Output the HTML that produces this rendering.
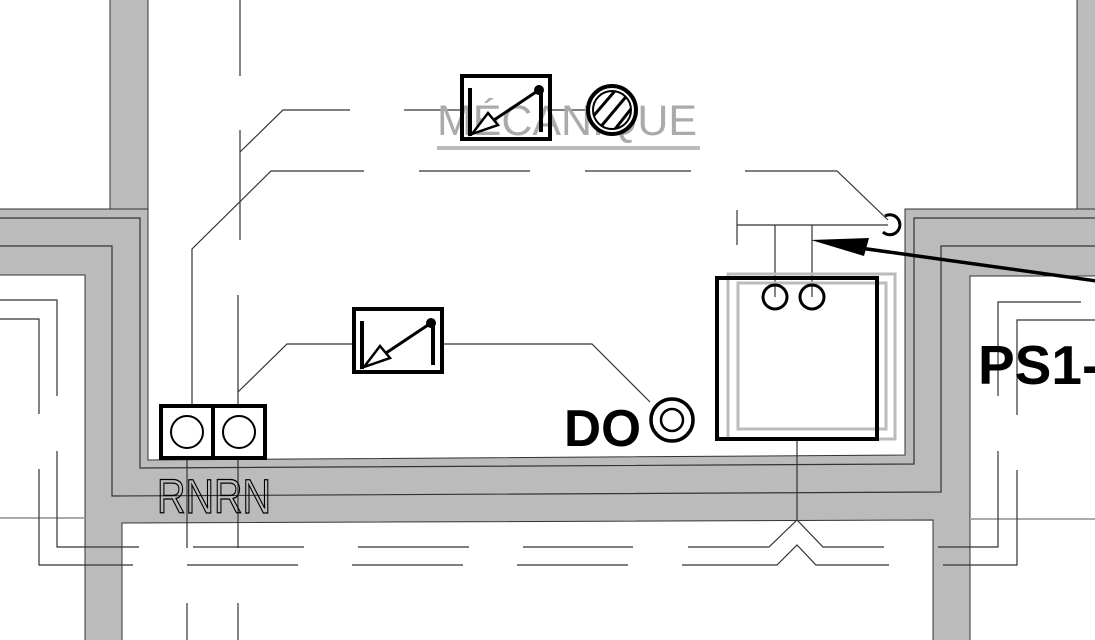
<!DOCTYPE html>
<html><head><meta charset="utf-8"><style>
html,body{margin:0;padding:0;background:#fff;width:1095px;height:640px;overflow:hidden}
svg{display:block}
</style></head><body>
<svg width="1095" height="640" viewBox="0 0 1095 640" xmlns="http://www.w3.org/2000/svg">
<defs>
<g id="sym">
  <rect x="0" y="0" width="88" height="63" fill="none" stroke="#000" stroke-width="4"/>
  <line x1="8" y1="12" x2="8" y2="60" stroke="#000" stroke-width="4"/>
  <line x1="79" y1="16" x2="79" y2="56" stroke="#000" stroke-width="4"/>
  <circle cx="77" cy="14" r="5" fill="#000"/>
  <line x1="77" y1="14" x2="32" y2="44" stroke="#000" stroke-width="3"/>
  <polygon points="10,58 26,37 36,49" fill="#fff" stroke="#000" stroke-width="2.5"/>
</g>
</defs>
<g fill="#bbb" stroke="#333" stroke-width="1">
  <rect x="110" y="-2" width="38" height="212"/>
  <rect x="1077" y="-2" width="20" height="212"/>
  <polygon points="-2,209 148,209 148,460 905,455 905,209 1097,209 1097,276 970,276 970,642 933,642 933,520 122,523 122,642 85,642 85,275 -2,275"/>
</g>
<g fill="none" stroke="#333" stroke-width="1.2">
  <polyline points="-2,218 140,218 140,468 914,464 914,218 1097,218"/>
  <polyline points="-2,246 112,246 112,496 941,492 941,246 1097,246"/>
</g>
<g fill="none" stroke="#aaa" stroke-width="2">
  <line x1="0" y1="518" x2="85" y2="518"/>
  <line x1="970" y1="519" x2="1095" y2="519"/>
</g>
<g fill="none" stroke="#333" stroke-width="1.2">
  <polyline points="0,300 57,300 57,396"/>
  <polyline points="57,451 57,547 139,547"/>
  <polyline points="0,319 39,319 39,414"/>
  <polyline points="39,469 39,565 133,565"/>
  <line x1="193" y1="547" x2="304" y2="547"/><line x1="358" y1="547" x2="469" y2="547"/><line x1="523" y1="547" x2="633" y2="547"/>
  <line x1="187" y1="565" x2="298" y2="565"/><line x1="352" y1="565" x2="463" y2="565"/><line x1="517" y1="565" x2="628" y2="565"/>
  <polyline points="688,547 769,547 797,520 823,547 884,547"/>
  <polyline points="682,565 777,565 797,545 816,565 889,565"/>
  <line x1="797" y1="440" x2="797" y2="520"/>
  <polyline points="938,547 998,547 998,451"/>
  <polyline points="998,396 998,302 1081,302"/>
  <polyline points="943,565 1017,565 1017,470"/>
  <polyline points="1017,415 1017,320 1095,320"/>
  <!-- centerlines -->
  <line x1="240" y1="0" x2="240" y2="76"/>
  <line x1="240" y1="130" x2="240" y2="240"/>
  <line x1="238" y1="295" x2="238" y2="405"/>
  <line x1="238" y1="458" x2="238" y2="548"/><line x1="238" y1="603" x2="238" y2="640"/>
  <line x1="187" y1="458" x2="187" y2="548"/><line x1="187" y1="603" x2="187" y2="640"/>
  <!-- leaders -->
  <polyline points="350,110 283,110 240,152"/>
  <line x1="404" y1="110" x2="462" y2="110"/>
  <line x1="550" y1="110" x2="587" y2="110"/>
  <polyline points="364,171 271,171 192,249 192,405"/>
  <line x1="419" y1="171" x2="530" y2="171"/>
  <line x1="585" y1="171" x2="691" y2="171"/>
  <polyline points="745,171 837,171 888,220"/>
  <polyline points="355,344 287,344 238,392"/>
  <polyline points="442,344 592,344 650,402"/>
  <line x1="737" y1="210" x2="737" y2="245"/>
  <line x1="737" y1="225" x2="888" y2="225"/>
  <line x1="775" y1="225" x2="775" y2="297"/>
  <line x1="812" y1="225" x2="812" y2="297"/>
</g>
<!-- MECANIQUE -->
<text x="437" y="135" font-family="Liberation Sans, sans-serif" font-size="43" fill="#aaa" textLength="260" lengthAdjust="spacingAndGlyphs">MÉCANIQUE</text>
<rect x="437" y="146" width="263" height="4" fill="#bbb"/>
<use href="#sym" x="462" y="76"/>
<use href="#sym" x="354" y="309"/>
<!-- hatched circle -->
<g>
  <clipPath id="cc"><circle cx="612" cy="110" r="19"/></clipPath>
  <circle cx="612" cy="110" r="24" fill="#fff" stroke="#000" stroke-width="4"/>
  <circle cx="612" cy="110" r="19" fill="none" stroke="#000" stroke-width="2"/>
  <g clip-path="url(#cc)" stroke="#000" stroke-width="3">
    <line x1="590" y1="120" x2="620" y2="85"/>
    <line x1="598" y1="130" x2="630" y2="92"/>
    <line x1="608" y1="138" x2="638" y2="100"/>
  </g>
</g>
<!-- RN boxes -->
<g fill="#fff" stroke="#000" stroke-width="4">
  <rect x="161" y="406" width="52" height="52"/>
  <rect x="213" y="406" width="52" height="52"/>
</g>
<g fill="none" stroke="#000" stroke-width="2">
  <circle cx="187" cy="432" r="16"/>
  <circle cx="239" cy="432" r="16"/>
</g>
<text x="157" y="513" font-family="Liberation Sans, sans-serif" font-size="48" fill="none" stroke="#000" stroke-width="1.3" textLength="114" lengthAdjust="spacingAndGlyphs">RNRN</text>
<!-- DO -->
<text x="564" y="446" font-family="Liberation Sans, sans-serif" font-weight="bold" font-size="52" fill="#000" textLength="77" lengthAdjust="spacingAndGlyphs">DO</text>
<circle cx="672" cy="420" r="21" fill="#fff" stroke="#000" stroke-width="3.5"/>
<circle cx="672" cy="420" r="11" fill="none" stroke="#000" stroke-width="2.5"/>
<!-- big box -->
<rect x="728" y="274" width="167" height="165" fill="none" stroke="#bbb" stroke-width="3"/>
<rect x="738" y="283" width="148" height="146" fill="none" stroke="#bbb" stroke-width="3"/>
<rect x="717" y="278" width="160" height="161" fill="none" stroke="#000" stroke-width="4"/>
<g fill="none" stroke="#000" stroke-width="3">
  <circle cx="775" cy="297" r="12"/>
  <circle cx="812" cy="297" r="12"/>
  <path d="M885,216 A10,10 0 1 1 883,232"/>
</g>
<!-- arrow -->
<line x1="1097" y1="281" x2="860" y2="248" stroke="#000" stroke-width="3.5"/>
<polygon points="811,240 869,238 864,256" fill="#000"/>
<!-- PS1- -->
<text x="978" y="384" font-family="Liberation Sans, sans-serif" font-weight="bold" font-size="55" fill="#000">PS1-</text>
</svg>
</body></html>
